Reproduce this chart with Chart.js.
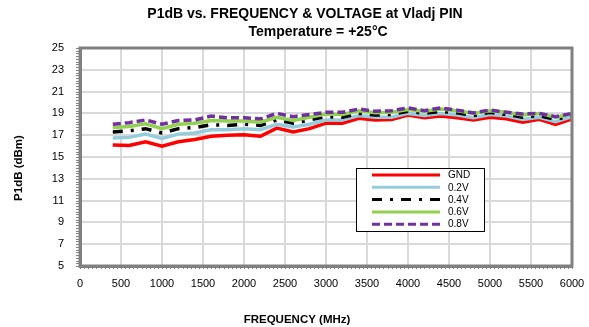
<!DOCTYPE html>
<html lang="en">
<head>
<meta charset="UTF-8">
<title>P1dB vs. Frequency</title>
<style>
  html, body { margin: 0; padding: 0; background: #fff; }
  #wrap { width: 589px; height: 327px; }
</style>
</head>
<body>
<div id="wrap"><canvas id="grafico"></canvas></div>
<script src="https://cdn.jsdelivr.net/npm/chart.js"></script>
<script>
// frequency points (MHz)
var freqMHz = [400, 600, 800, 1000, 1200, 1400, 1600, 1800, 2000, 2200, 2400, 2600, 2800, 3000,
  3200, 3400, 3600, 3800, 4000, 4200, 4400, 4600, 4800, 5000, 5200, 5400, 5600, 5800, 6000];

// P1dB (dBm) for each Vladj setting
var p1dbGnd = [16.1, 16.05, 16.4, 16.0, 16.4, 16.6, 16.9, 17.0, 17.05, 16.9, 17.65, 17.3, 17.6, 18.1,
  18.1, 18.55, 18.4, 18.45, 18.85, 18.6, 18.75, 18.6, 18.4, 18.65, 18.5, 18.2, 18.45, 18.0, 18.5];
var p1db02 = [16.75, 16.8, 17.1, 16.7, 17.1, 17.2, 17.5, 17.5, 17.6, 17.5, 18.0, 17.75, 18.0, 18.4,
  18.4, 18.8, 18.65, 18.65, 19.0, 18.8, 19.0, 18.85, 18.6, 18.9, 18.75, 18.45, 18.65, 18.25, 18.7];
var p1db04 = [17.3, 17.4, 17.6, 17.2, 17.6, 17.7, 17.95, 17.9, 18.0, 17.9, 18.4, 18.1, 18.4, 18.7,
  18.65, 19.0, 18.85, 18.9, 19.2, 19.0, 19.2, 19.05, 18.8, 19.1, 18.9, 18.65, 18.8, 18.45, 18.8];
var p1db06 = [17.7, 17.8, 18.05, 17.6, 18.0, 18.1, 18.35, 18.3, 18.3, 18.2, 18.65, 18.35, 18.65, 18.95,
  18.9, 19.25, 19.05, 19.1, 19.35, 19.2, 19.4, 19.25, 19.0, 19.25, 19.1, 18.85, 19.0, 18.65, 18.95];
var p1db08 = [18.0, 18.15, 18.4, 18.0, 18.35, 18.4, 18.75, 18.6, 18.6, 18.5, 19.0, 18.7, 18.9, 19.1,
  19.1, 19.4, 19.2, 19.25, 19.5, 19.25, 19.5, 19.3, 19.05, 19.3, 19.1, 18.95, 19.0, 18.7, 19.0];

var serieNomes = ['GND', '0.2V', '0.4V', '0.6V', '0.8V'];
var serieDados = [p1dbGnd, p1db02, p1db04, p1db06, p1db08];
var serieCores = ['#ff0000', '#93cddd', '#000000', '#92d050', '#7030a0'];
var serieTracos = [[], [], [10, 8, 3, 8], [], [8, 4]];

var tituloLinhas = ['P1dB vs. FREQUENCY & VOLTAGE at Vladj PIN', 'Temperature = +25\u00B0C'];
var tituloX = 'FREQUENCY (MHz)';
var tituloY = 'P1dB (dBm)';

var fonte = '"Liberation Sans", Arial, sans-serif';

function pares(valores) {
  return freqMHz.map(function (f, i) { return { x: f, y: valores[i] }; });
}

var datasets = serieNomes.map(function (nome, i) {
  return {
    label: nome,
    data: pares(serieDados[i]),
    borderColor: serieCores[i],
    backgroundColor: serieCores[i],
    borderWidth: 3.5,
    borderDash: serieTracos[i],
    borderCapStyle: 'butt',
    pointRadius: 0,
    tension: 0,
    fill: false,
    order: serieNomes.length - i
  };
});

// titles, plot frame, minor ticks and the boxed legend
var extras = {
  id: 'extras',
  afterDraw: function (chart) {
    var ctx = chart.ctx;
    var area = chart.chartArea;
    var sx = chart.scales.x, sy = chart.scales.y;

    ctx.save();
    ctx.fillStyle = '#000';
    ctx.textAlign = 'center';
    ctx.textBaseline = 'middle';
    ctx.font = 'bold 14px ' + fonte;
    ctx.fillText(tituloLinhas[0], 305, 14);
    ctx.fillText(tituloLinhas[1], 318, 32);

    ctx.font = 'bold 11.5px ' + fonte;
    ctx.fillText(tituloX, 297, 320);
    ctx.save();
    ctx.translate(19, 168);
    ctx.rotate(-Math.PI / 2);
    ctx.fillText(tituloY, 0, 0);
    ctx.restore();

    // minor ticks
    ctx.strokeStyle = '#808080';
    ctx.lineWidth = 1;
    ctx.beginPath();
    for (var v = 5; v <= 25.001; v += 0.25) {
      var py = Math.round(sy.getPixelForValue(v)) + 0.5;
      ctx.moveTo(area.left - 4, py);
      ctx.lineTo(area.left, py);
    }
    for (var f = 0; f <= 6000; f += 50) {
      var px = Math.round(sx.getPixelForValue(f)) + 0.5;
      ctx.moveTo(px, area.bottom);
      ctx.lineTo(px, area.bottom + 3);
    }
    ctx.stroke();

    // frame
    ctx.strokeStyle = '#808080';
    ctx.lineWidth = 3;
    ctx.strokeRect(area.left, area.top, area.right - area.left, area.bottom - area.top);

    // legend
    var lx = 356, ly = 168, lw = 128, lh = 63;
    ctx.fillStyle = '#fff';
    ctx.fillRect(lx, ly, lw, lh);
    ctx.strokeStyle = '#000';
    ctx.lineWidth = 1;
    ctx.strokeRect(lx + 0.5, ly + 0.5, lw, lh);
    ctx.font = '10px ' + fonte;
    ctx.textAlign = 'left';
    chart.data.datasets.forEach(function (ds, i) {
      var yy = ly + 7 + i * 12.3;
      ctx.strokeStyle = ds.borderColor;
      ctx.lineWidth = 3;
      ctx.lineCap = 'butt';
      ctx.setLineDash(ds.borderDash);
      ctx.beginPath();
      ctx.moveTo(372, yy);
      ctx.lineTo(440, yy);
      ctx.stroke();
      ctx.setLineDash([]);
      ctx.fillStyle = '#000';
      ctx.fillText(ds.label, 448, yy + 0.5);
    });
    ctx.restore();
  }
};

var grafico = new Chart(document.getElementById('grafico'), {
  type: 'line',
  data: { datasets: datasets },
  options: {
    responsive: true,
    maintainAspectRatio: false,
    animation: false,
    layout: { padding: { top: 48, right: 17, left: 0, bottom: 0 } },
    plugins: {
      legend: { display: false },
      title: { display: false },
      tooltip: { enabled: false }
    },
    scales: {
      x: {
        type: 'linear',
        min: 0,
        max: 6000,
        ticks: {
          stepSize: 500,
          padding: 11,
          color: '#000',
          font: { family: fonte, size: 11 },
          maxRotation: 0,
          callback: function (v) { return String(v); }
        },
        grid: { color: '#d9d9d9', lineWidth: 2, drawTicks: false },
        border: { color: '#808080', width: 3 },
        afterFit: function (s) {
          s.height = 61;
          s.paddingLeft = 0;
          s.paddingRight = 0;
        }
      },
      y: {
        min: 5,
        max: 25,
        ticks: {
          stepSize: 2,
          padding: 16,
          color: '#000',
          font: { family: fonte, size: 11 }
        },
        grid: { color: '#d9d9d9', lineWidth: 2, drawTicks: false },
        border: { color: '#808080', width: 3 },
        afterFit: function (s) {
          s.width = 80;
          s.paddingTop = 0;
          s.paddingBottom = 0;
        }
      }
    }
  },
  plugins: [extras]
});
</script>
</body>
</html>
